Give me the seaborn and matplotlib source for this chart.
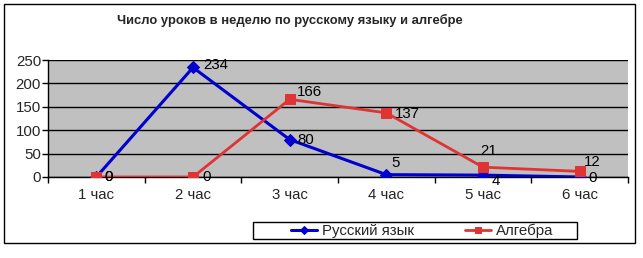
import matplotlib
matplotlib.use("Agg")
import matplotlib.pyplot as plt
from matplotlib.patches import Rectangle
from matplotlib.ticker import FixedLocator
import seaborn as sns
import pandas as pd

categories = ["1 час", "2 час", "3 час", "4 час", "5 час", "6 час"]
russian = [0, 234, 80, 5, 4, 0]
algebra = [0, 0, 166, 137, 21, 12]
series_names = ["Русский язык", "Алгебра"]
title = "Число уроков в неделю по русскому языку и алгебре"
yticks = [0, 50, 100, 150, 200, 250]

sns.set_style("white")
plt.rcParams["font.family"] = ["Liberation Sans", "DejaVu Sans"]

W, H = 643, 258
FS = 10.8
fig = plt.figure(figsize=(W / 100, H / 100), dpi=100)
ax = fig.add_axes([48 / W, 1 - 177 / H, (628 - 48) / W, (177 - 60) / H])
ax.set_facecolor("#C0C0C0")

df_r = pd.DataFrame({"x": categories, "y": russian})
df_a = pd.DataFrame({"x": categories, "y": algebra})

blue = "#0000D0"
red = "#E03333"
sns.lineplot(data=df_r, x="x", y="y", ax=ax, color=blue, lw=2.2, marker="D",
             markersize=6, markeredgecolor=blue, markerfacecolor=blue,
             label=series_names[0], zorder=3, sort=False)
sns.lineplot(data=df_a, x="x", y="y", ax=ax, color=red, lw=2.0, marker="s",
             markersize=7, markeredgecolor=red, markerfacecolor=red,
             label=series_names[1], zorder=4, sort=False)

ax.set_xlim(-0.5, 5.5)
ax.set_ylim(0, 250)
ax.set_yticks(yticks)
ax.yaxis.grid(True, color="black", lw=1)
ax.set_axisbelow(True)
ax.set_xlabel("")
ax.set_ylabel("")
ax.set_xticks(range(len(categories)))
ax.set_xticklabels(categories)
ax.xaxis.set_minor_locator(FixedLocator([i - 0.5 for i in range(len(categories) + 1)]))
ax.tick_params(axis="x", which="major", length=0, pad=8, labelsize=FS)
ax.tick_params(axis="x", which="minor", length=4, width=1, color="black", direction="out", bottom=True)
ax.tick_params(axis="y", length=4, width=1, color="black", direction="out", left=True, labelsize=FS, pad=1)
for s in ["top", "right"]:
    ax.spines[s].set_visible(False)
for s in ["left", "bottom"]:
    ax.spines[s].set_color("black")
    ax.spines[s].set_linewidth(1)

off_r = [(8, 0), (10, 2), (8, 0), (5, 12), (9, -6), (9, -1)]
off_a = [(8, 0), (9, 0), (7, 7), (9, -1), (-3, 16), (4, 9)]
for i, v in enumerate(russian):
    ax.annotate(str(v), (i, v), xytext=off_r[i], textcoords="offset pixels",
                ha="left", va="center", fontsize=FS, color="black", zorder=6,
                annotation_clip=False)
for i, v in enumerate(algebra):
    ax.annotate(str(v), (i, v), xytext=off_a[i], textcoords="offset pixels",
                ha="left", va="center", fontsize=FS, color="black", zorder=6,
                annotation_clip=False)

handles, labels = ax.get_legend_handles_labels()
if ax.legend_:
    ax.legend_.remove()
leg = fig.legend(handles, labels, loc="center", bbox_to_anchor=(422 / W, 1 - 231 / H),
                 ncol=2, frameon=False,
                 fontsize=FS, handlelength=1.75, handletextpad=0.33, columnspacing=3.4,
                 borderpad=0.1, borderaxespad=0, markerscale=0.7)
fig.patches.append(Rectangle((253 / W, 1 - 239 / H), (577 - 253) / W, (239 - 222) / H,
                             transform=fig.transFigure, fill=False, edgecolor="black", lw=1))

fig.text(290 / W, 1 - 20 / H, title, ha="center", va="center", fontsize=9.4, fontweight="bold")

fig.patches.append(Rectangle((4 / W, 1 - 243 / H), (635 - 4) / W, (243 - 4) / H,
                             transform=fig.transFigure, fill=False, edgecolor="black", lw=1))

fig.savefig("out.png", dpi=100)
